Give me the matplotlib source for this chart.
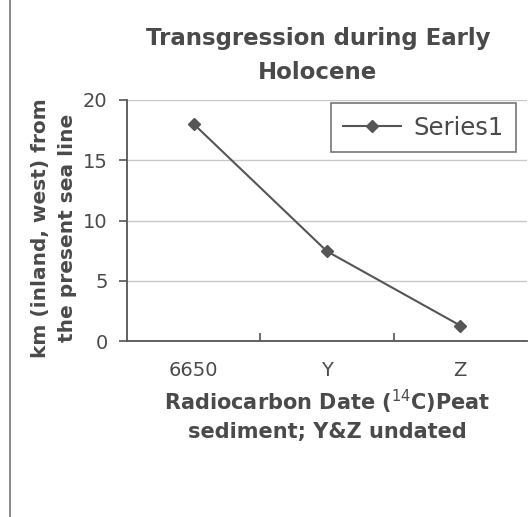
import matplotlib.pyplot as plt
from matplotlib.patches import Rectangle

categories = ["6650", "Y", "Z"]
km_values = [18.0, 7.45, 1.3]
series_name = "Series1"

plt.rcParams["font.family"] = ["DejaVu Sans"]

text_color = "#4a4a4a"
line_color = "#555555"

fig = plt.figure(figsize=(5.29, 5.17), dpi=100)
ax = fig.add_axes([0.240, 0.340, 0.756, 0.467])

x = range(len(categories))
ax.plot(x, km_values, color=line_color, linewidth=1.5, marker="D",
        markersize=6, markerfacecolor=line_color, label=series_name)

ax.set_xlim(-0.5, len(categories) - 0.5)
ax.set_ylim(0, 20)
ax.set_yticks([0, 5, 10, 15, 20])
ax.set_xticks(list(x))
ax.set_xticklabels(categories)
ax.set_xticks([0.5, 1.5], minor=True)

ax.grid(axis="y", color="#c8c8c8", linewidth=1)
ax.set_axisbelow(True)
for side in ["top", "right"]:
    ax.spines[side].set_visible(False)
for side in ["left", "bottom"]:
    ax.spines[side].set_color(line_color)
    ax.spines[side].set_linewidth(1.3)

ax.tick_params(axis="x", which="major", length=0, pad=14, labelsize=14,
               labelcolor=text_color)
ax.tick_params(axis="x", which="minor", length=6, direction="in",
               color=line_color, width=1.2)
ax.tick_params(axis="y", length=6, direction="out", color=line_color,
               width=1.2, labelsize=14, labelcolor=text_color, pad=8)

# title placed on the figure so it can sit left of the axes centre
fig.text(318 / 529, 1 - 38 / 517, "Transgression during Early",
         ha="center", va="center", fontsize=16.5, fontweight="bold",
         color=text_color)
fig.text(318 / 529, 1 - 73 / 517, "Holocene",
         ha="center", va="center", fontsize=16.5, fontweight="bold",
         color=text_color)

ax.set_xlabel("Radiocarbon Date ($^{14}$C)Peat\nsediment; Y&Z undated",
              fontsize=15, fontweight="bold", color=text_color,
              labelpad=6, linespacing=1.35)
ax.set_ylabel("km (inland, west) from\nthe present sea line",
              fontsize=14.5, fontweight="bold", color=text_color,
              linespacing=1.5)
ax.yaxis.set_label_coords(-0.125, 0.47)

leg = ax.legend(loc="upper right", bbox_to_anchor=(0.9725, 0.985),
                borderaxespad=0, fontsize=17.5,
                frameon=True, fancybox=False, edgecolor=line_color,
                handlelength=2.4, handletextpad=0.5, borderpad=0.5)
leg.get_frame().set_linewidth(1.2)
for t in leg.get_texts():
    t.set_color(text_color)

fig.patches.append(Rectangle((10 / 529, -0.01), 1.0, 1.02,
                             transform=fig.transFigure, fill=False,
                             edgecolor="#777777", linewidth=1.2))

fig.savefig("out.png", dpi=100)
